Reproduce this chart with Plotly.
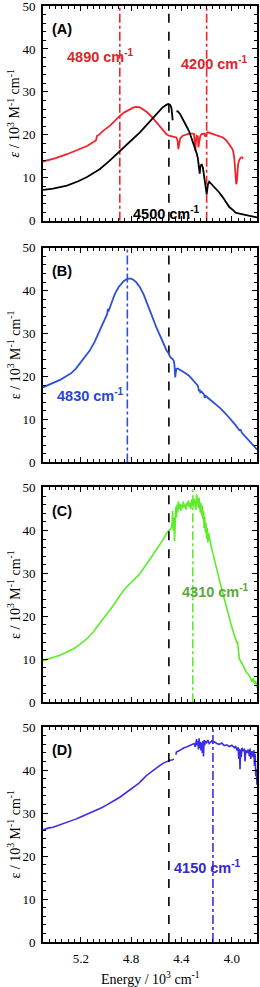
import plotly.graph_objects as go

# ---------------- data ----------------
# Panel A - black curve (gap between 4.47 and 4.44)
E_A_black = [5.50, 5.42, 5.31, 5.22, 5.15, 5.05, 4.97, 4.89, 4.81, 4.73, 4.68, 4.63, 4.58, 4.55, 4.52, 4.505, 4.49, 4.48, 4.475, 4.47,
             None,
             4.44, 4.43, 4.41, 4.38, 4.36, 4.34, 4.32, 4.30, 4.28, 4.27, 4.26, 4.255, 4.25, 4.24, 4.23, 4.22, 4.21, 4.205, 4.20,
             4.19, 4.18, 4.17, 4.15, 4.13, 4.10, 4.07, 4.04, 4.02, 3.99, 3.97, 3.94, 3.92, 3.89, 3.86, 3.83, 3.80]
eps_A_black = [7.2, 7.5, 8.2, 9.2, 10.2, 12.0, 14.0, 16.3, 18.4, 20.6, 22.2, 23.8, 25.4, 26.4, 27.0, 27.2, 27.0, 26.3, 25.0, 23.4,
               None,
               25.4, 25.5, 24.8, 23.3, 22.0, 20.9, 19.3, 17.6, 15.8, 14.6, 12.2, 11.0, 12.6, 13.2, 12.4, 10.0, 8.0, 6.8, 6.2,
               8.4, 9.1, 8.8, 8.2, 7.6, 6.6, 5.4, 4.2, 3.2, 2.5, 1.9, 1.7, 1.6, 1.4, 1.2, 1.0, 0.8]

# Panel A - red curve
E_A_red = [5.50, 5.40, 5.31, 5.22, 5.15, 5.08, 5.07, 5.06, 5.02, 4.97, 4.93, 4.89, 4.85, 4.81, 4.78, 4.76, 4.73, 4.71, 4.67, 4.63,
           4.59, 4.55, 4.52, 4.50, 4.47, 4.44, 4.43, 4.425, 4.42, 4.41, 4.39, 4.36, 4.34, 4.31, 4.30, 4.295, 4.29, 4.285, 4.28,
           4.27, 4.265, 4.26, 4.255, 4.25, 4.24, 4.22, 4.21, 4.20, 4.19, 4.17, 4.15, 4.13, 4.10, 4.07, 4.04, 4.02, 4.00,
           3.99, 3.98, 3.975, 3.97, 3.965, 3.96, 3.955, 3.95, 3.94, 3.93, 3.92, 3.91]
eps_A_red = [13.8, 14.6, 15.5, 16.5, 17.4, 18.7, 19.8, 19.9, 21.0, 22.1, 23.3, 24.4, 25.3, 26.0, 26.4, 26.5, 26.4, 26.0, 25.2, 24.0,
             22.6, 21.3, 20.2, 19.8, 19.6, 19.4, 18.5, 16.7, 17.5, 19.2, 19.8, 20.2, 20.3, 20.3, 20.2, 18.0, 16.3, 18.5, 19.8,
             19.6, 17.1, 18.2, 19.4, 19.8, 20.2, 20.3, 19.6, 20.4, 20.6, 20.4, 20.2, 20.1, 19.8, 19.4, 18.6, 17.8, 16.9,
             16.3, 14.5, 12.4, 10.5, 8.5, 9.2, 11.5, 13.2, 14.2, 14.7, 14.8, 14.5]

# Panel B - blue curve
E_B = [5.50, 5.45, 5.40, 5.36, 5.32, 5.28, 5.24, 5.21, 5.17, 5.13, 5.09, 5.05, 5.02, 4.99, 4.985, 4.98, 4.96, 4.93, 4.90, 4.88,
       4.86, 4.84, 4.82, 4.80, 4.78, 4.76, 4.73, 4.70, 4.68, 4.65, 4.63, 4.60, 4.57, 4.55, 4.52, 4.50, 4.49, 4.47, 4.46,
       4.455, 4.45, 4.445, 4.44, 4.43, 4.41, 4.38, 4.34, 4.30, 4.27, 4.265, 4.26, 4.255, 4.25, 4.24, 4.23, 4.22, 4.215,
       4.21, 4.20, 4.17, 4.13, 4.09, 4.05, 4.00, 3.97, 3.94, 3.93, 3.92, 3.89, 3.87, 3.84, 3.82, 3.80]
eps_B = [17.5, 18.1, 18.8, 19.3, 20.0, 20.7, 21.8, 22.9, 24.3, 26.0, 28.1, 30.7, 32.8, 34.6, 35.8, 35.2, 36.8, 39.2, 40.8, 41.6,
         42.2, 42.6, 42.8, 42.8, 42.5, 42.0, 40.8, 39.1, 37.7, 35.4, 33.8, 31.5, 29.5, 28.0, 26.2, 25.3, 24.6, 24.1, 23.6,
         22.5, 19.8, 21.0, 21.8, 21.9, 21.6, 21.0, 20.2, 19.0, 17.9, 17.2, 16.6, 17.0, 16.3, 16.5, 16.1, 15.8, 15.0,
         15.6, 15.3, 14.6, 13.6, 12.6, 11.4, 9.8, 8.7, 7.5, 7.6, 6.9, 6.0, 5.4, 4.4, 3.7, 3.0]

# Panel C - green curve
E_C = [5.50, 5.45, 5.40, 5.36, 5.31, 5.26, 5.21, 5.15, 5.10, 5.05, 5.00, 4.94, 4.90, 4.86, 4.82, 4.78, 4.74, 4.71, 4.67, 4.63,
       4.59, 4.55, 4.53, 4.51, 4.49, 4.48, 4.475, 4.47, 4.465, 4.46, 4.455, 4.45, 4.445, 4.44, 4.435, 4.43, 4.425, 4.42, 4.41,
       4.405, 4.40, 4.39, 4.385, 4.38, 4.37, 4.365, 4.36, 4.35, 4.345, 4.34, 4.33, 4.325, 4.32, 4.31, 4.305, 4.30, 4.29,
       4.285, 4.28, 4.27, 4.265, 4.26, 4.25, 4.245, 4.24, 4.235, 4.23, 4.225, 4.22, 4.215, 4.21, 4.205, 4.20, 4.195, 4.19,
       4.185, 4.18, 4.17, 4.16, 4.15, 4.13, 4.10, 4.07, 4.05, 4.02, 4.00, 3.98, 3.96, 3.955, 3.95, 3.94, 3.93, 3.92,
       3.91, 3.90, 3.89, 3.88, 3.87, 3.86, 3.85, 3.84, 3.83, 3.82, 3.81, 3.80]
eps_C = [9.7, 10.1, 10.6, 11.0, 11.7, 12.4, 13.4, 14.8, 16.4, 18.3, 20.4, 22.6, 24.4, 26.0, 27.3, 28.4, 29.6, 30.8, 32.4, 34.2,
         35.9, 37.7, 38.8, 39.7, 40.3, 40.6, 41.5, 44.5, 40.0, 43.0, 37.5, 42.5, 45.5, 43.0, 46.0, 44.2, 46.8, 45.0, 46.2,
         44.6, 46.0, 45.2, 46.8, 45.5, 46.0, 44.8, 46.4, 45.8, 47.0, 45.5, 46.4, 45.0, 47.2, 46.0, 45.4, 47.4, 46.2,
         44.8, 48.4, 46.5, 45.2, 47.6, 44.2, 46.4, 43.5, 45.8, 42.6, 44.6, 40.5, 43.2, 39.5, 41.8, 38.0, 40.6, 37.2,
         39.4, 38.6, 36.8, 35.8, 34.6, 32.0, 28.6, 25.2, 22.9, 19.8, 17.5, 15.6, 13.8, 14.2, 12.0, 10.0, 9.6, 9.0,
         8.4, 8.1, 7.3, 6.8, 6.6, 5.8, 5.5, 4.8, 5.6, 4.3, 5.0, 3.4]

# Panel D - violet-blue curve (small break near 4.45)
E_D = [5.50, 5.46, 5.42, 5.38, 5.35, 5.31, 5.27, 5.24, 5.21, 5.17, 5.14, 5.10, 5.06, 5.03, 5.00, 4.96, 4.93, 4.89, 4.85,
       4.82, 4.78, 4.74, 4.71, 4.68, 4.64, 4.61, 4.57, 4.54, 4.51, 4.49, 4.47, 4.46,
       None,
       4.445, 4.44, 4.42, 4.40, 4.38, 4.36, 4.34, 4.32, 4.30, 4.29, 4.28, 4.275, 4.27, 4.265, 4.26, 4.255, 4.25, 4.245,
       4.24, 4.235, 4.23, 4.225, 4.22, 4.215, 4.21, 4.20, 4.19, 4.18, 4.17, 4.16, 4.15, 4.14, 4.12, 4.10, 4.08, 4.06,
       4.04, 4.02, 4.00, 3.98, 3.97, 3.96, 3.95, 3.945, 3.94, 3.935, 3.93, 3.925, 3.92, 3.91, 3.90, 3.895, 3.89, 3.88,
       3.87, 3.86, 3.855, 3.85, 3.84, 3.83, 3.825, 3.82, 3.815, 3.81, 3.805, 3.80]
eps_D = [26.1, 26.5, 26.7, 27.1, 27.4, 27.8, 28.3, 28.6, 29.0, 29.5, 29.9, 30.3, 30.9, 31.3, 31.8, 32.4, 33.0, 33.7, 34.5,
         35.2, 36.0, 36.9, 37.8, 38.7, 39.6, 40.3, 41.1, 41.7, 42.1, 42.3, 42.4, 42.6,
         None,
         43.6, 44.2, 44.5, 44.9, 45.2, 45.4, 45.7, 46.0, 46.2, 45.4, 47.2, 45.8, 46.8, 44.8, 47.4, 45.2, 46.6, 44.6,
         46.4, 44.0, 46.8, 43.2, 47.0, 45.8, 46.8, 46.4, 47.0, 46.2, 46.6, 46.8, 46.4, 46.6, 46.2, 46.0, 46.3, 45.7,
         45.9, 45.5, 45.8, 45.2, 45.6, 44.6, 45.3, 42.6, 45.0, 40.2, 44.8, 43.0, 45.2, 44.4, 45.0, 42.0, 44.6, 44.0,
         44.8, 43.2, 45.0, 42.6, 44.4, 43.0, 44.6, 41.0, 43.8, 38.6, 40.2, 36.6]

# reference / peak lines (10^3 cm^-1)
ref_line = 4.50
peaks_A = [4.89, 4.20]
peak_B = 4.83
peak_C = 4.31
peak_D = 4.15

# tick labels
x_ticks = [5.2, 4.8, 4.4, 4.0]
y_ticks = [0, 10, 20, 30, 40, 50]

# ---------------- figure ----------------
RED = "#f0242a"
BLUE_B = "#2c50d8"
GREEN = "#5cec2a"
VIOLET = "#3b2ee6"
SERIF = "Liberation Serif, Times New Roman, serif"
SANS = "Liberation Sans, Arial, sans-serif"

fig = go.Figure()

domains = [[0.7705, 1.0], [0.5123, 0.7417], [0.2561, 0.4856], [0.0, 0.2295]]
suffix = ["", "2", "3", "4"]


def add(panel, x, y, color, dash="solid", width=1.8):
    s = suffix[panel]
    fig.add_trace(go.Scatter(x=x, y=y, mode="lines", line=dict(color=color, width=width, dash=dash),
                             xaxis="x" + s, yaxis="y" + s, showlegend=False, connectgaps=False,
                             hoverinfo="skip"))


def vline(panel, xv, color, dash):
    add(panel, [xv, xv], [y_ticks[0], y_ticks[-1]], color, dash=dash, width=1.6)


# Panel A
vline(0, peaks_A[0], RED, "dashdot")
vline(0, peaks_A[1], RED, "dashdot")
vline(0, ref_line, "black", "dash")
add(0, E_A_red, eps_A_red, RED)
add(0, E_A_black, eps_A_black, "black")
# Panel B
vline(1, ref_line, "black", "dash")
vline(1, peak_B, BLUE_B, "dashdot")
add(1, E_B, eps_B, BLUE_B)
# Panel C
add(2, E_C, eps_C, GREEN, width=1.6)
vline(2, ref_line, "black", "dash")
vline(2, peak_C, GREEN, "dashdot")
# Panel D
add(3, E_D, eps_D, VIOLET, width=1.6)
vline(3, ref_line, "black", "dash")
vline(3, peak_D, VIOLET, "dashdot")

layout = dict(
    width=260, height=987,
    margin=dict(l=43, r=3, t=6, b=45, autoexpand=False),
    plot_bgcolor="white", paper_bgcolor="white",
    showlegend=False,
)

x_dtick = round(x_ticks[0] - x_ticks[1], 3)
y_dtick = y_ticks[1] - y_ticks[0]

for i, s in enumerate(suffix):
    layout["xaxis" + s] = dict(
        domain=[0, 1], anchor="y" + s, range=[5.5, 3.8], automargin=False,
        tickmode="linear", tick0=x_ticks[-1], dtick=x_dtick, tickformat=".1f",
        showticklabels=(i == 3), ticklabelstandoff=3, ticklabeloverflow="allow",
        ticks="inside", ticklen=5, tickwidth=1.3, tickcolor="black",
        minor=dict(ticks="inside", dtick=x_dtick / 8, tick0=x_ticks[-1], ticklen=3, tickwidth=1, tickcolor="black",
                   showgrid=False),
        showline=True, linewidth=2, linecolor="black", mirror="allticks",
        showgrid=False, zeroline=False,
        tickfont=dict(family=SERIF, size=13, color="black"),
    )
    layout["yaxis" + s] = dict(
        domain=domains[i], anchor="x" + s, range=[0, 50], automargin=False,
        tickmode="linear", tick0=y_ticks[0], dtick=y_dtick, ticklabelstandoff=3, ticklabeloverflow="allow",
        ticks="inside", ticklen=5, tickwidth=1.3, tickcolor="black",
        minor=dict(ticks="inside", dtick=y_dtick / 5, tick0=0, ticklen=3, tickwidth=1, tickcolor="black",
                   showgrid=False),
        showline=True, linewidth=2, linecolor="black", mirror="allticks",
        showgrid=False, zeroline=False,
        tickfont=dict(family=SERIF, size=13, color="black"),
    )

fig.update_layout(**layout)

ann = []


def label(panel, x, y, text, color, size=14):
    s = suffix[panel]
    ann.append(dict(x=x, y=y, xref="x" + s, yref="y" + s, text=text, showarrow=False,
                    font=dict(family=SANS, size=size, color=color), xanchor="center", yanchor="middle"))


for i, t in enumerate(["(A)", "(B)", "(C)", "(D)"]):
    label(i, 5.35, 44.6, f"<b>{t}</b>", "black", 14.5)

label(0, 5.04, 38.4, "<b>4890 cm<sup>-1</sup></b>", "#d8262a", 14.5)
label(0, 4.135, 36.8, "<b>4200 cm<sup>-1</sup></b>", "#d8262a", 14.5)
label(0, 4.515, 1.9, "<b>4500 cm<sup>-1</sup></b>", "black", 14.5)
label(1, 5.12, 15.6, "<b>4830 cm<sup>-1</sup></b>", "#2a46d0", 14.5)
label(2, 4.13, 26.0, "<b>4310 cm<sup>-1</sup></b>", "#5aa83a", 14.5)
label(3, 4.19, 17.4, "<b>4150 cm<sup>-1</sup></b>", "#3328c8", 14.5)

# axis titles as annotations
ytitles = ["<i>ε</i> / 10<sup>3</sup> M<sup>-1</sup> cm<sup>-1</sup>",
           "ε / 10<sup>3</sup> M<sup>-1</sup> cm<sup>-1</sup>",
           "ε / 10<sup>3</sup> M<sup>-1</sup> cm<sup>-1</sup>",
           "ε / 10<sup>3</sup> M<sup>-1</sup> cm<sup>-1</sup>"]
for i in range(4):
    ann.append(dict(x=0, y=(domains[i][0] + domains[i][1]) / 2, xref="paper", yref="paper",
                    xanchor="center", yanchor="middle", xshift=-29, textangle=-90,
                    text=ytitles[i], showarrow=False, font=dict(family=SERIF, size=14, color="black")))
ann.append(dict(x=0.5, y=0, xref="paper", yref="paper", xanchor="center", yanchor="middle", yshift=-36,
                text="Energy / 10<sup>3</sup> cm<sup>-1</sup>", showarrow=False,
                font=dict(family=SERIF, size=14, color="black")))

fig.update_layout(annotations=ann)

fig.write_html("out.html", config={"displayModeBar": False},
               post_script="document.body.style.margin='0';document.body.style.overflow='hidden';")
